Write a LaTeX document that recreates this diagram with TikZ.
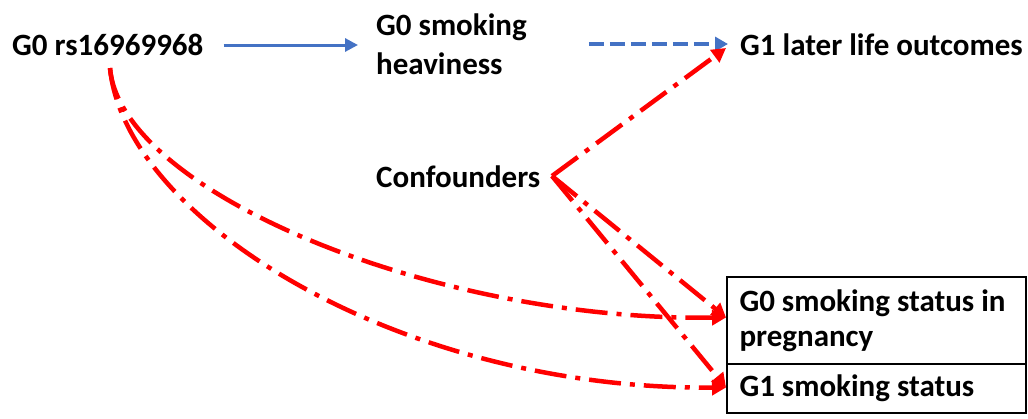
\documentclass[tikz,border=0pt]{standalone}
\usepackage{fontspec}
\setmainfont{Carlito}
\usetikzlibrary{arrows.meta,calc}
\definecolor{myblue}{HTML}{4472C4}
\definecolor{myred}{HTML}{FF0000}
\begin{document}
\begin{tikzpicture}[x=1pt,y=-1pt,
  lbl/.style={font=\bfseries\fontsize{31}{39}\selectfont, inner sep=0pt, anchor=west, align=left},
  boxnode/.style={draw, line width=1.5pt, outer sep=0pt, font=\bfseries\fontsize{31}{35}\selectfont, anchor=north west,
     text width=274pt, inner xsep=12.5pt, inner ysep=0pt, align=flush left},
  bluearr/.style={draw=myblue, line width=3pt, -{Triangle[length=13pt,width=13pt]}, color=myblue},
  bluedash/.style={bluearr, line width=4.5pt, dash pattern=on 15pt off 6pt, -{Triangle[length=13pt,width=14pt]}},
  redarr/.style={draw=myred, color=myred, line width=4.5pt, dash pattern=on 32pt off 9pt on 5pt off 9pt,
     -{Triangle[length=14pt,width=15pt]}}
]
\useasboundingbox (0,0) rectangle (1028,418);
\node[lbl] (rs) at (12,45) {G0 rs16969968};
\node[lbl] (heavy) at (376,44) {G0 smoking\\heaviness};
\node[lbl] (outc) at (740,45) {G1 later life outcomes};
\node[lbl] (conf) at (376,177) {Confounders};
\node[boxnode, minimum height=87pt] (b1) at (727,277) {G0 smoking status in\\pregnancy};
\node[boxnode, minimum height=49pt] (b2) at (b1.south west) {G1 smoking status};

\coordinate (cv) at (552,176);
\coordinate (s0) at (110,68);
\coordinate (t0) at ($(outc.west)+(-14,3)$);
\coordinate (t1) at ($(b1.west)+(-1,-3)$);
\coordinate (t2) at ($(b2.west)+(-1,-1)$);

\draw[bluearr, shorten <=20pt, shorten >=18pt] (rs.east) -- (rs.east -| heavy.west);
\draw[bluedash, shorten <=62pt, shorten >=12pt] (heavy.east) -- (heavy.east -| outc.west);

\draw[redarr] (cv) -- (t0);
\draw[redarr] (cv) -- (t1);
\draw[redarr] (cv) -- (t2);
\draw[redarr] (s0) .. controls (120,190) and (430,321) .. (t1);
\draw[redarr] (s0) .. controls (125,220) and (400,390) .. (t2);
\end{tikzpicture}
\end{document}
